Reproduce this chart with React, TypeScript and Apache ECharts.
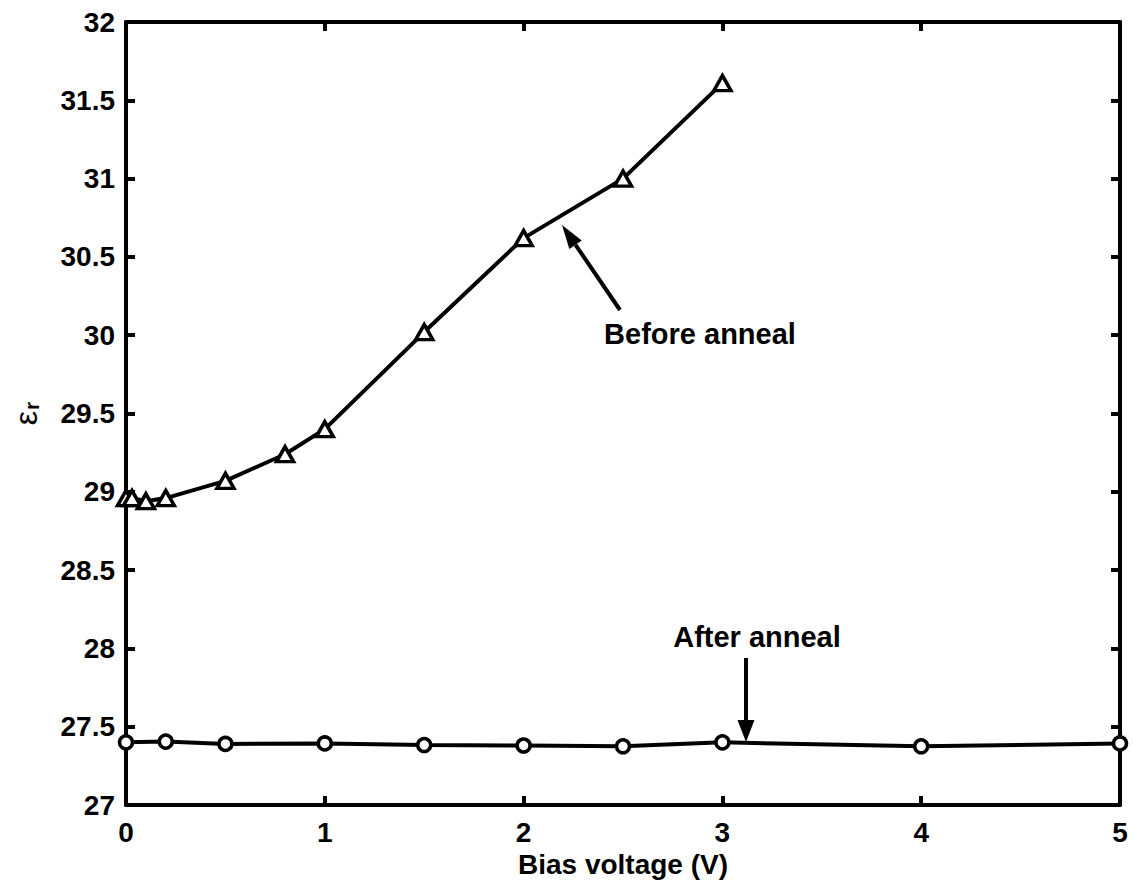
import React, { useEffect, useRef } from "react";
import * as echarts from "echarts";

// Data
const beforeX = [0, 0.03, 0.1, 0.2, 0.5, 0.8, 1, 1.5, 2, 2.5, 3];
const beforeY = [28.96, 28.96, 28.94, 28.96, 29.07, 29.24, 29.4, 30.02, 30.62, 31.0, 31.61];
const afterX = [0, 0.2, 0.5, 1, 1.5, 2, 2.5, 3, 4, 5];
const afterY = [27.4, 27.405, 27.39, 27.393, 27.383, 27.38, 27.375, 27.4, 27.375, 27.393];

const xTitle = "Bias voltage (V)";
const beforeLabel = "Before anneal";
const afterLabel = "After anneal";

const FONT = "'Liberation Sans', Arial, Helvetica, sans-serif";

function arrow(x1: number, y1: number, x2: number, y2: number, headLen: number, headW: number) {
  const dx = x2 - x1;
  const dy = y2 - y1;
  const len = Math.sqrt(dx * dx + dy * dy);
  const ux = dx / len;
  const uy = dy / len;
  const bx = x2 - ux * headLen;
  const by = y2 - uy * headLen;
  const px = -uy * headW / 2;
  const py = ux * headW / 2;
  return [
    {
      type: "line",
      shape: { x1, y1, x2: bx, y2: by },
      style: { stroke: "#000", lineWidth: 4 },
    },
    {
      type: "polygon",
      shape: { points: [[x2, y2], [bx + px, by + py], [bx - px, by - py]] },
      style: { fill: "#000" },
    },
  ];
}

export default function App() {
  const ref = useRef<HTMLDivElement>(null);
  useEffect(() => {
    document.body.style.margin = "0";
    const chart = echarts.init(ref.current!, null, { renderer: "svg" });
    const lbl = { fontFamily: FONT, fontWeight: "bold", fontSize: 28, color: "#000" };
    const axisCommon = {
      axisLine: { show: true, onZero: false, lineStyle: { color: "#000", width: 4 } },
      axisTick: { show: true, inside: true, length: 9, lineStyle: { color: "#000", width: 4 } },
      splitLine: { show: false },
    };
    chart.setOption({
      animation: false,
      backgroundColor: "#fff",
      grid: { left: 126, right: 13, top: 22, bottom: 81, containLabel: false },
      xAxis: [
        {
          type: "value", min: 0, max: 5, interval: 1, position: "bottom",
          ...axisCommon,
          axisLabel: { ...lbl, margin: 13 },
          name: xTitle, nameLocation: "middle", nameGap: 44,
          nameTextStyle: { ...lbl },
        },
        {
          type: "value", min: 0, max: 5, interval: 1, position: "top",
          ...axisCommon,
          axisLabel: { show: false },
        },
      ],
      yAxis: [
        {
          type: "value", min: 27, max: 32, interval: 0.5, position: "left",
          ...axisCommon,
          axisLabel: { ...lbl, margin: 11 },
          name: "{e|ε}{r|r}", nameLocation: "middle", nameGap: 84, nameRotate: 90,
          nameTextStyle: {
            rich: {
              e: { fontFamily: FONT, fontSize: 32, color: "#000", fontWeight: "normal", verticalAlign: "bottom" },
              r: { fontFamily: FONT, fontSize: 21, color: "#000", fontWeight: "bold", verticalAlign: "bottom", padding: [14, 0, 0, 1] },
            },
          },
        },
        {
          type: "value", min: 27, max: 32, interval: 0.5, position: "right",
          ...axisCommon,
          axisLabel: { show: false },
        },
      ],
      series: [
        {
          type: "line", name: beforeLabel,
          data: beforeX.map((x, i) => [x, beforeY[i]]),
          symbol: "triangle", symbolSize: [17, 15],
          lineStyle: { color: "#000", width: 4 },
          itemStyle: { color: "#fff", borderColor: "#000", borderWidth: 3.5 },
          z: 3,
        },
        {
          type: "line", name: afterLabel,
          data: afterX.map((x, i) => [x, afterY[i]]),
          symbol: "circle", symbolSize: 13,
          lineStyle: { color: "#000", width: 4 },
          itemStyle: { color: "#fff", borderColor: "#000", borderWidth: 3.5 },
          z: 3,
        },
      ],
      graphic: [
        ...arrow(620, 310, 562, 225, 24, 15),
        ...arrow(746, 658, 746, 742, 22, 17),
        {
          type: "text", x: 700, y: 334,
          style: { text: beforeLabel, fill: "#000", font: `bold 29px ${FONT}`, align: "center", verticalAlign: "middle" },
        },
        {
          type: "text", x: 757, y: 637,
          style: { text: afterLabel, fill: "#000", font: `bold 29px ${FONT}`, align: "center", verticalAlign: "middle" },
        },
      ],
    });
    return () => chart.dispose();
  }, []);
  return <div ref={ref} style={{ width: 1133, height: 886 }} />;
}
